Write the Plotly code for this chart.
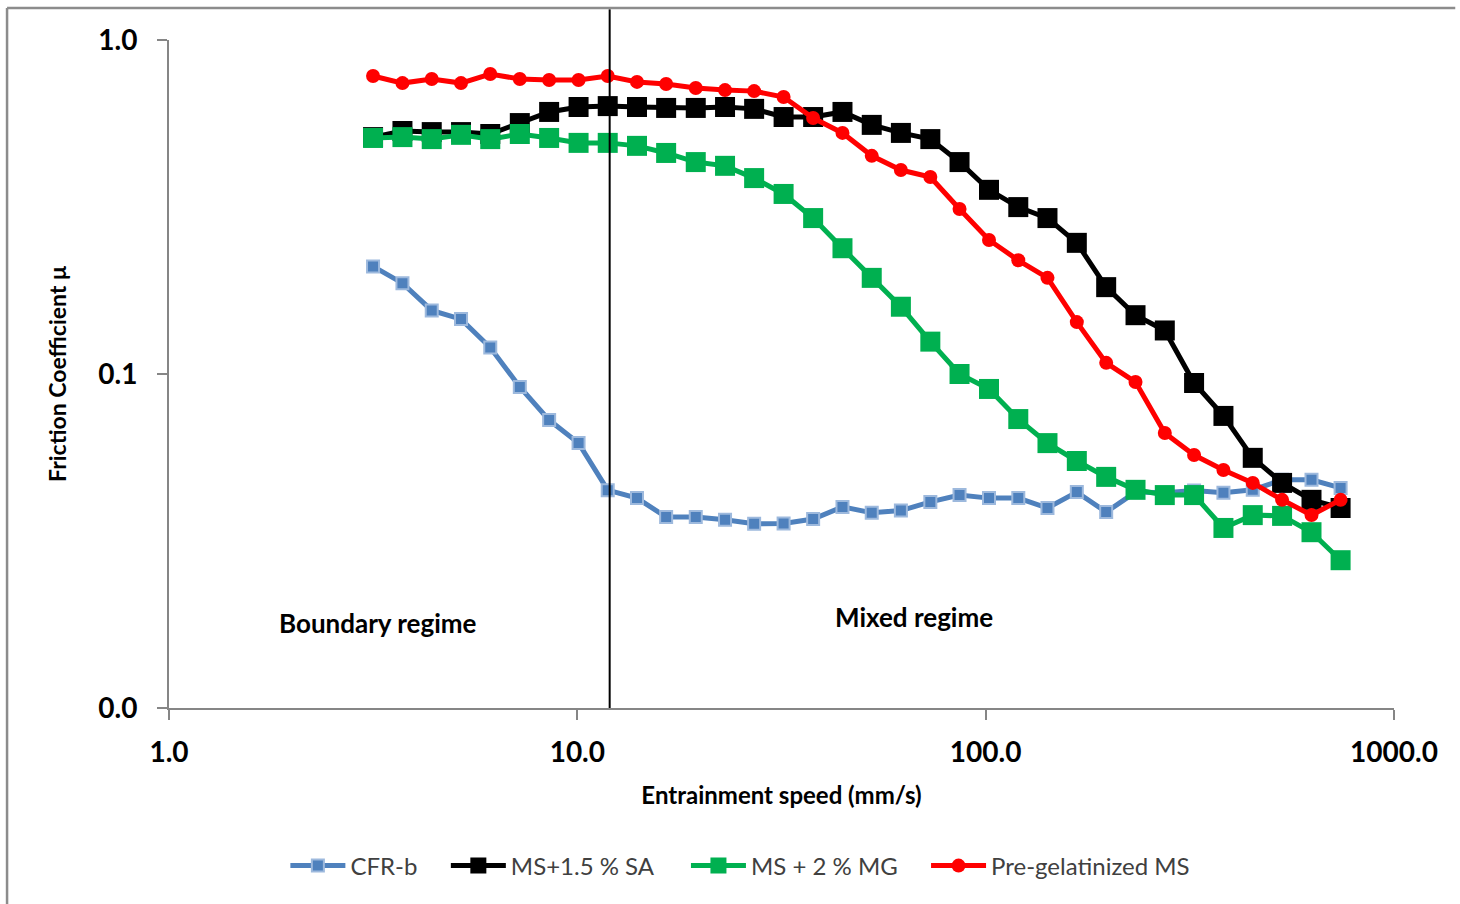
import math
import plotly.graph_objects as go

# Entrainment speed (mm/s), shared by all series
speed = [3.16, 3.73, 4.40, 5.19, 6.12, 7.23, 8.53, 10.07, 11.87, 14.0,
         16.5, 19.5, 23.0, 27.1, 32.0, 37.8, 44.6, 52.6, 62.0, 73.2,
         86.3, 101.9, 120.2, 141.7, 167.2, 197.3, 232.8, 274.6, 323.9, 382.2,
         450.9, 532.0, 628.0, 740.0]

cfr_b = [0.210, 0.187, 0.155, 0.146, 0.120, 0.0915, 0.0728, 0.0621, 0.0449, 0.0425,
         0.0373, 0.0373, 0.0366, 0.0356, 0.0357, 0.0368, 0.0400, 0.0384, 0.0390, 0.0414,
         0.0434, 0.0425, 0.0425, 0.0397, 0.0443, 0.0386, 0.0443, 0.0441, 0.0448, 0.0441,
         0.0450, 0.0482, 0.0482, 0.0456]

ms_sa = [0.512, 0.534, 0.530, 0.530, 0.523, 0.564, 0.609, 0.630, 0.634, 0.630,
         0.626, 0.626, 0.630, 0.622, 0.588, 0.588, 0.609, 0.557, 0.527, 0.505,
         0.431, 0.356, 0.316, 0.293, 0.247, 0.182, 0.150, 0.135, 0.094, 0.0749,
         0.0561, 0.0472, 0.0420, 0.0397]

ms_mg = [0.509, 0.512, 0.505, 0.520, 0.505, 0.523, 0.509, 0.492, 0.492, 0.482,
         0.459, 0.431, 0.420, 0.386, 0.346, 0.293, 0.238, 0.194, 0.159, 0.125,
         0.100, 0.0902, 0.0733, 0.0621, 0.0549, 0.0492, 0.0450, 0.0434, 0.0434, 0.0346,
         0.0378, 0.0376, 0.0336, 0.0277]

pregel = [0.780, 0.743, 0.764, 0.743, 0.791, 0.764, 0.759, 0.759, 0.780, 0.749,
          0.738, 0.718, 0.708, 0.703, 0.675, 0.584, 0.527, 0.450, 0.408, 0.389,
          0.312, 0.252, 0.219, 0.194, 0.143, 0.108, 0.0946, 0.0666, 0.0572, 0.0516,
          0.0472, 0.0420, 0.0378, 0.0420]

series_names = ["CFR-b", "MS+1.5 % SA", "MS + 2 % MG", "Pre-gelatinized MS"]

x_tickvals = [1, 10, 100, 1000]
x_ticktext = ["1.0", "10.0", "100.0", "1000.0"]
y_tickvals = [0.01, 0.1, 1]
y_ticktext = ["0.0", "0.1", "1.0"]

regime_boundary = 12.0
regime_labels = ["Boundary regime", "Mixed regime"]
regime_label_x = [3.25, 66.8]
regime_label_y = [0.0180, 0.0187]

FONT = "Lato, 'Open Sans', sans-serif"

# legend entry horizontal positions (paper fraction) for each series
legend_x = [0.095, 0.226, 0.422, 0.618]
legend_ids = ["legend", "legend2", "legend3", "legend4"]

fig = go.Figure()
fig.add_trace(go.Scatter(
    x=speed, y=cfr_b, name=series_names[0], mode="lines+markers", legend=legend_ids[0],
    line=dict(color="#4F81BD", width=5),
    marker=dict(symbol="square", size=12, color="#4F81BD",
                line=dict(color="#9DB9DD", width=2))))
fig.add_trace(go.Scatter(
    x=speed, y=ms_sa, name=series_names[1], mode="lines+markers", legend=legend_ids[1],
    line=dict(color="#000000", width=5),
    marker=dict(symbol="square", size=20, color="#000000")))
fig.add_trace(go.Scatter(
    x=speed, y=ms_mg, name=series_names[2], mode="lines+markers", legend=legend_ids[2],
    line=dict(color="#00B050", width=5),
    marker=dict(symbol="square", size=20, color="#00B050")))
fig.add_trace(go.Scatter(
    x=speed, y=pregel, name=series_names[3], mode="lines+markers", legend=legend_ids[3],
    line=dict(color="#FF0000", width=5),
    marker=dict(symbol="circle", size=14, color="#FF0000")))

fig.add_shape(type="line", xref="x", yref="paper",
              x0=regime_boundary, x1=regime_boundary, y0=0, y1=1.046,
              line=dict(color="#000000", width=2))

for txt, lx, ly in zip(regime_labels, regime_label_x, regime_label_y):
    fig.add_annotation(x=math.log10(lx), y=math.log10(ly), xref="x", yref="y",
                       text=txt, showarrow=False,
                       font=dict(family=FONT, size=26, color="#000000", weight="bold"))

# outer chart border (left and top)
fig.add_shape(type="line", xref="paper", yref="paper", x0=-0.1322, x1=1.05, y0=1.0479, y1=1.0479,
              line=dict(color="#8C8C8C", width=2.5))
fig.add_shape(type="line", xref="paper", yref="paper", x0=-0.1322, x1=-0.1322, y0=-0.30, y1=1.0479,
              line=dict(color="#8C8C8C", width=2.5))

axis_common = dict(
    showgrid=False, zeroline=False, showline=True, linecolor="#868686", linewidth=2,
    ticks="outside", ticklen=10, tickwidth=2, tickcolor="#868686",
    tickfont=dict(family=FONT, size=28, color="#000000", weight="bold"),
)

fig.update_xaxes(type="log", range=[0, 3], tickvals=x_tickvals, ticktext=x_ticktext,
                 ticklabelstandoff=8,
                 title=dict(text="Entrainment speed (mm/s)", standoff=21,
                            font=dict(family=FONT, size=24, color="#000000", weight="bold")),
                 **axis_common)
fig.update_yaxes(type="log", range=[-2, 0], tickvals=y_tickvals, ticktext=y_ticktext,
                 ticklabelstandoff=14,
                 title=dict(text="Friction Coefficient μ", standoff=25,
                            font=dict(family=FONT, size=23, color="#000000", weight="bold")),
                 **axis_common)

legend_common = dict(orientation="h", xanchor="left", y=-0.2365, yanchor="middle",
                     font=dict(family=FONT, size=24, color="#404040"),
                     itemwidth=55, bgcolor="rgba(0,0,0,0)", borderwidth=0)

fig.update_layout(
    width=1460, height=904,
    margin=dict(l=169, r=66, t=40, b=196),
    paper_bgcolor="white", plot_bgcolor="white",
    showlegend=True,
    legend=dict(x=legend_x[0], **legend_common),
    legend2=dict(x=legend_x[1], **legend_common),
    legend3=dict(x=legend_x[2], **legend_common),
    legend4=dict(x=legend_x[3], **legend_common),
)

fig.write_html("out.html")
